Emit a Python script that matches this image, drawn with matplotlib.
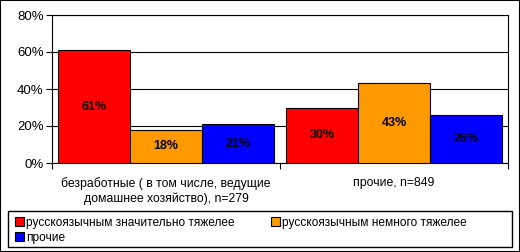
import matplotlib.pyplot as plt
import matplotlib.patches as mpatches
import numpy as np

plt.rcParams['font.family'] = ['Liberation Sans', 'DejaVu Sans']

# Данные
categories = ["безработные ( в том числе, ведущие\nдомашнее хозяйство), n=279", "прочие, n=849"]
series_names = ["русскоязычным значительно тяжелее", "русскоязычным немного тяжелее", "прочие"]
values_heavy = [61, 30]
values_slight = [18, 43]
values_other = [21, 26]
colors = ["#FF0000", "#FF9900", "#0000FF"]

fig = plt.figure(figsize=(5.2, 2.52), dpi=100)
ax = fig.add_axes([52 / 520, 89 / 252, 456 / 520, 148 / 252])

x = np.arange(len(categories))
w = 0.315
handles = []
for i, (vals, col, name) in enumerate(zip([values_heavy, values_slight, values_other], colors, series_names)):
    bars = ax.bar(x + (i - 1) * w, vals, w, color=col, edgecolor="black", linewidth=0.8, label=name, zorder=3)
    for b, v in zip(bars, vals):
        ax.text(b.get_x() + b.get_width() / 2, v / 2, f"{v}%", ha="center", va="center",
                fontsize=9, fontweight="bold", color="black", zorder=4)
    handles.append(bars)

ax.set_xlim(-0.5, 1.5)
ax.set_ylim(0, 80)
ax.set_yticks(range(0, 81, 20))
ax.set_yticklabels([f"{t}%" for t in range(0, 81, 20)], fontsize=9.5)
ax.yaxis.grid(True, color="black", linewidth=0.8, zorder=0)
ax.tick_params(axis="y", length=4, width=0.8, direction="out", pad=2)

ax.set_xticks(x)
ax.set_xticklabels(categories, fontsize=8.8, linespacing=1.3)
ax.tick_params(axis="x", which="major", length=0, pad=10)
ax.set_xticks([-0.5, 0.5, 1.5], minor=True)
ax.tick_params(axis="x", which="minor", length=4, width=0.8, direction="out")

for s in ax.spines.values():
    s.set_linewidth(0.8)
    s.set_color("black")

# рамка легенды
fig.patches.append(mpatches.Rectangle((8 / 520, 5 / 252), 504 / 520, 36 / 252, transform=fig.transFigure,
                                      fill=False, edgecolor="black", linewidth=1.0))
leg = fig.legend([handles[0], handles[2], handles[1]],
                 [series_names[0], series_names[2], series_names[1]],
                 ncol=2, loc="upper left", bbox_to_anchor=(15 / 520, 35 / 252),
                 fontsize=8.6, frameon=False,
                 handlelength=0.75, handleheight=0.75, handletextpad=0.2, borderpad=0,
                 labelspacing=0.25, columnspacing=3.0, borderaxespad=0)

fig.patches.append(mpatches.Rectangle((0, 0), 1, 1, transform=fig.transFigure,
                                      fill=False, edgecolor="black", linewidth=1.5))

fig.savefig("out.png", dpi=100)
